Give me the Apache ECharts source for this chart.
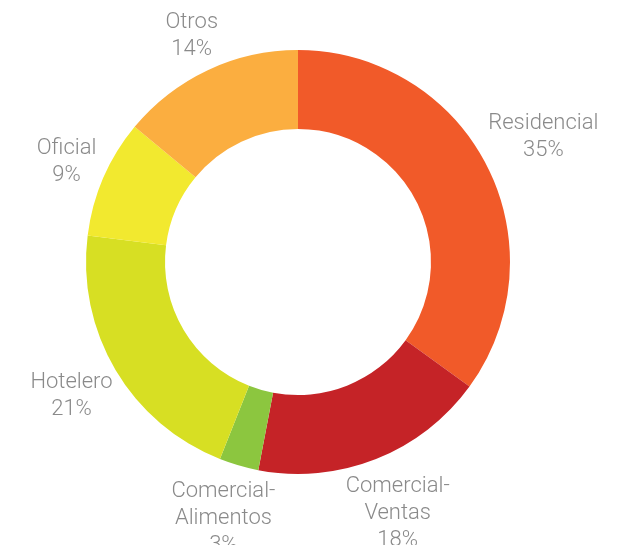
<!DOCTYPE html>
<html>
<head>
<meta charset="utf-8">
<script src="https://cdn.jsdelivr.net/npm/echarts@6/dist/echarts.min.js"></script>
<style>
  html, body { margin: 0; padding: 0; background: #fff; }
  #chart { width: 619px; height: 545px; }
</style>
</head>
<body>
<div id="chart"></div>
<script>
// Sector names and shares (percent), clockwise from 12 o'clock
const sectors = ['Residencial', 'Comercial-\nVentas', 'Comercial-\nAlimentos', 'Hotelero', 'Oficial', 'Otros'];
const shares = [35, 18, 3, 21, 9, 14];
const colors = ['#F15A29', '#C52327', '#8CC63F', '#D7DF23', '#F2E92F', '#FBAE40'];

const CX = 298, CY = 262, R_IN = 133, R_OUT = 212, GAP = 2;

// Mid angle of every slice, measured clockwise from 12 o'clock (radians)
const total = shares.reduce((a, b) => a + b, 0);
const midAngles = [];
let acc = 0;
shares.forEach(v => {
  midAngles.push((acc + v / 2) / total * 2 * Math.PI);
  acc += v;
});

const chart = echarts.init(document.getElementById('chart'));
chart.setOption({
  animation: false,
  series: [{
    type: 'pie',
    center: [CX, CY],
    radius: [R_IN, R_OUT],
    startAngle: 90,
    clockwise: true,
    avoidLabelOverlap: false,
    data: sectors.map((name, i) => ({
      name: name,
      value: shares[i],
      itemStyle: { color: colors[i] }
    })),
    label: {
      show: true,
      position: 'outside',
      formatter: '{b}\n{c}%',
      color: '#8a8a8a',
      fontFamily: 'Roboto',
      fontWeight: 300,
      fontSize: 22,
      lineHeight: 27,
      align: 'center'
    },
    labelLine: { show: false },
    // centre each label on its slice's mid angle, just clear of the ring
    labelLayout: function (p) {
      const a = midAngles[p.dataIndex];
      const s = Math.sin(a), c = Math.cos(a);
      const w = p.labelRect.width, h = p.labelRect.height;
      const reach = Math.abs(s) * w / 2 + Math.abs(c) * h / 2;
      const r = R_OUT + GAP + reach;
      return {
        x: CX + r * s,
        y: CY - r * c,
        align: 'center',
        verticalAlign: 'middle'
      };
    },
    emphasis: { disabled: true }
  }]
});
</script>
</body>
</html>
